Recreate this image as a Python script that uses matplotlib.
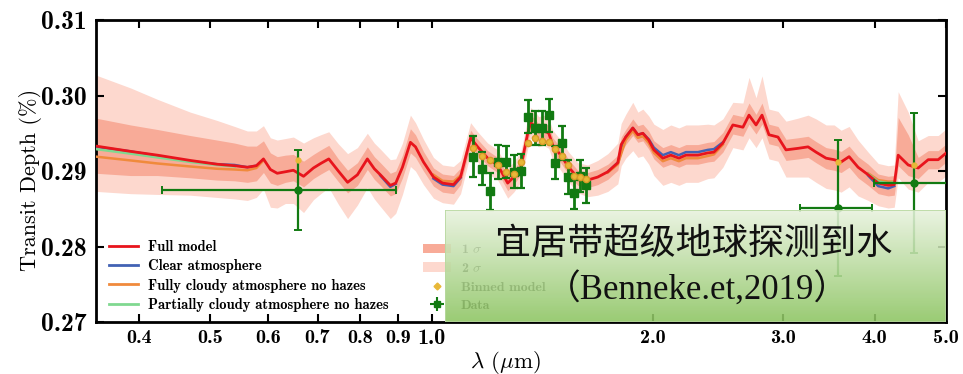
import numpy as np
import matplotlib
matplotlib.use('Agg')
import matplotlib.pyplot as plt
from matplotlib.lines import Line2D
from matplotlib.patches import Patch, Rectangle

plt.rcParams['mathtext.fontset'] = 'cm'

# Full model spectrum (wavelength in um, transit depth in %)
wl = [0.350, 0.390, 0.424, 0.470, 0.511, 0.540, 0.562, 0.578, 0.591, 0.604,
      0.617, 0.633, 0.649, 0.670, 0.691, 0.707, 0.725, 0.747, 0.769, 0.793,
      0.818, 0.836, 0.852, 0.879, 0.894, 0.913, 0.936, 0.951, 0.975, 1.006,
      1.035, 1.071, 1.095, 1.130, 1.155, 1.192, 1.230, 1.269, 1.293, 1.322,
      1.351, 1.364, 1.385, 1.398, 1.420, 1.443, 1.461, 1.498, 1.536, 1.580,
      1.630, 1.682, 1.736, 1.791, 1.810, 1.836, 1.877, 1.907, 1.937, 1.973,
      2.005, 2.062, 2.114, 2.168, 2.216, 2.301, 2.374, 2.419, 2.488, 2.567,
      2.649, 2.700, 2.760, 2.812, 2.874, 2.956, 3.031, 3.147, 3.248, 3.330,
      3.436, 3.524, 3.602, 3.693, 3.798, 3.920, 4.045, 4.173, 4.253, 4.306,
      4.443, 4.584, 4.730, 4.880, 5.020]
full = [0.2933, 0.2926, 0.2921, 0.2914, 0.2909, 0.2907, 0.2905, 0.2907, 0.2916, 0.2902,
        0.2897, 0.2899, 0.2901, 0.2893, 0.2904, 0.2910, 0.2916, 0.2900, 0.2885, 0.2895,
        0.2916, 0.2903, 0.2895, 0.2881, 0.2884, 0.2905, 0.2938, 0.2932, 0.2912, 0.2892,
        0.2884, 0.2882, 0.2892, 0.2944, 0.2932, 0.2917, 0.2908, 0.2884, 0.2892, 0.2905,
        0.2950, 0.2964, 0.2958, 0.2952, 0.2954, 0.2950, 0.2934, 0.2921, 0.2905, 0.2891,
        0.2888, 0.2892, 0.2899, 0.2911, 0.2935, 0.2945, 0.2957, 0.2948, 0.2950, 0.2941,
        0.2928, 0.2917, 0.2921, 0.2917, 0.2921, 0.2921, 0.2924, 0.2925, 0.2937, 0.2961,
        0.2958, 0.2974, 0.2961, 0.2974, 0.2948, 0.2945, 0.2928, 0.2930, 0.2932, 0.2925,
        0.2917, 0.2915, 0.2912, 0.2919, 0.2905, 0.2895, 0.2884, 0.2881, 0.2882, 0.2921,
        0.2908, 0.2904, 0.2915, 0.2915, 0.2925]

# 1 and 2 sigma envelopes around the full model, in units of 1e-4 %
s1_hi = [37, 35, 34, 33, 32, 30, 28, 26, 24, 22, 22, 22, 21, 20, 18, 18, 18, 16, 16, 16,
         16, 16, 16, 16, 16, 16, 18, 16, 14, 12, 12, 12, 12, 10, 10, 10, 10, 10, 10, 10,
         10, 10, 10, 10, 10, 10, 10, 10, 10, 10, 10, 10, 10, 10, 10, 10, 12, 12, 12, 12,
         12, 14, 14, 14, 14, 14, 14, 14, 14, 14, 14, 16, 14, 16, 14, 14, 14, 14, 14, 14,
         14, 14, 14, 14, 14, 14, 12, 12, 12, 50, 40, 14, 12, 12, 12]
s1_lo = [36, 32, 27, 23, 21, 20, 20, 20, 18, 18, 16, 14, 14, 14, 14, 14, 14, 14, 14, 14,
         14, 14, 14, 14, 14, 14, 14, 14, 12, 12, 12, 12, 10, 10, 10, 10, 10, 10, 10, 10,
         10, 10, 10, 10, 10, 10, 10, 10, 10, 10, 10, 10, 10, 10, 10, 10, 10, 10, 10, 12,
         12, 12, 12, 12, 12, 12, 12, 12, 12, 12, 12, 12, 12, 12, 12, 12, 14, 14, 14, 14,
         14, 14, 14, 14, 14, 14, 14, 14, 14, 14, 14, 14, 12, 12, 12]
s2_hi = [94, 84, 74, 64, 58, 52, 48, 46, 44, 42, 44, 44, 44, 44, 40, 38, 36, 36, 38, 36,
         34, 34, 34, 34, 32, 32, 36, 32, 30, 26, 24, 24, 22, 20, 20, 20, 20, 20, 20, 20,
         20, 20, 20, 20, 20, 20, 20, 20, 20, 20, 20, 22, 24, 26, 28, 30, 34, 30, 32, 32,
         34, 38, 40, 40, 40, 40, 38, 36, 32, 30, 32, 50, 36, 52, 34, 34, 38, 40, 42, 44,
         44, 46, 42, 40, 36, 30, 26, 26, 26, 84, 70, 36, 32, 32, 32]
s2_lo = [60, 56, 52, 46, 44, 44, 44, 42, 40, 50, 46, 42, 44, 48, 42, 40, 38, 44, 48, 40,
         38, 40, 42, 44, 40, 36, 32, 32, 30, 28, 26, 26, 22, 20, 20, 20, 20, 20, 20, 20,
         20, 20, 20, 20, 20, 20, 20, 20, 20, 20, 22, 24, 26, 28, 28, 28, 30, 30, 30, 32,
         34, 36, 36, 36, 36, 36, 34, 34, 32, 30, 30, 30, 30, 30, 32, 32, 36, 38, 40, 40,
         40, 40, 40, 40, 38, 34, 30, 30, 30, 30, 32, 32, 30, 30, 30]

# Alternative atmospheres, only where they separate from the full model (nan = gap)
clear_wl = [0.350, 0.390, 0.424, 0.470, 0.511, 0.540, 0.562, 0.578, np.nan,
            0.852, 0.879, 0.894, np.nan, 1.006, 1.035, 1.071, 1.095, np.nan,
            1.736, 1.791, 1.836, 1.877, 1.907, 1.937, 1.973, 2.005, 2.062, 2.114,
            2.168, 2.216, 2.301, 2.374, 2.419, 2.488, np.nan, 3.920, 4.045, 4.173, 4.253]
clear = [0.2932, 0.2926, 0.2920, 0.2913, 0.2909, 0.2908, 0.2905, 0.2907, np.nan,
         0.2894, 0.2879, 0.2883, np.nan, 0.2890, 0.2882, 0.2880, 0.2891, np.nan,
         0.2899, 0.2911, 0.2945, 0.2957, 0.2948, 0.2950, 0.2942, 0.2931, 0.2921, 0.2925,
         0.2921, 0.2925, 0.2925, 0.2928, 0.2929, 0.2938, np.nan, 0.2894, 0.2880, 0.2877, 0.2880]
cloudy_wl = [0.350, 0.390, 0.424, 0.470, 0.511, 0.540, 0.562, 0.578, 0.591, np.nan,
             1.006, 1.035, 1.071, 1.095, np.nan,
             1.736, 1.791, 1.836, 1.877, 1.907, 1.937, 1.973, 2.005, 2.062, 2.114,
             2.168, 2.216, 2.301, 2.374, 2.419, 2.488, np.nan, 3.920, 4.045, 4.173, 4.253]
cloudy = [0.2919, 0.2914, 0.2910, 0.2906, 0.2903, 0.2902, 0.2901, 0.2904, 0.2914, np.nan,
          0.2895, 0.2887, 0.2886, 0.2894, np.nan,
          0.2898, 0.2909, 0.2941, 0.2953, 0.2944, 0.2946, 0.2937, 0.2924, 0.2913, 0.2917,
          0.2913, 0.2917, 0.2917, 0.2920, 0.2922, 0.2935, np.nan, 0.2897, 0.2888, 0.2886, 0.2886]
partial_wl = [0.350, 0.390, 0.424, 0.470, 0.511, 0.540, np.nan, 3.920, 4.045, 4.173, 4.253]
partial = [0.2929, 0.2923, 0.2918, 0.2912, 0.2908, 0.2906, np.nan, 0.2896, 0.2886, 0.2884, 0.2885]

# HST/WFC3 spectrum
hst_wl = [1.137, 1.170, 1.199, 1.230, 1.261, 1.293, 1.322, 1.351, 1.381,
          1.411, 1.442, 1.470, 1.502, 1.531, 1.560, 1.590, 1.620]
hst_td = [0.2919, 0.2903, 0.2873, 0.2912, 0.2912, 0.2899, 0.2900, 0.2972, 0.2957,
          0.2957, 0.2974, 0.2911, 0.2937, 0.2892, 0.2871, 0.2893, 0.2881]
hst_err = [0.0027, 0.0022, 0.0024, 0.0022, 0.0021, 0.0022, 0.0022, 0.0022, 0.0022,
           0.0022, 0.0022, 0.0022, 0.0022, 0.0022, 0.0021, 0.0021, 0.0023]
hst_bin = [0.2930, 0.2920, 0.2915, 0.2908, 0.2899, 0.2896, 0.2912, 0.2937, 0.2944,
           0.2940, 0.2938, 0.2929, 0.2920, 0.2908, 0.2893, 0.2892, 0.2889]

# K2 and Spitzer broadband points
bb_wl = [0.659, 3.568, 4.527]
bb_td = [0.2875, 0.2851, 0.2884]
bb_err = [0.0053, 0.0090, 0.0093]
bb_xlo = [0.4305, 3.168, 3.995]
bb_xhi = [0.894, 3.968, 5.200]
bb_bin = [0.2915, 0.2912, 0.2908]

xticks = [0.4, 0.5, 0.6, 0.7, 0.8, 0.9, 1.0, 2.0, 3.0, 4.0, 5.0]
yticks = [0.27, 0.28, 0.29, 0.30, 0.31]

red = '#e8141c'
blue = '#4262b4'
orange = '#f08a3c'
lgreen = '#80d890'
band1 = '#f8ab98'
band2 = '#fdd8ce'
dgreen = '#127a12'
gold = '#e8b838'

wl_a = np.array(wl)
full_a = np.array(full)
fig = plt.figure(figsize=(9.63, 3.74), dpi=100)
ax = fig.add_axes([0.0997, 0.139, 0.8826, 0.8075])

ax.fill_between(wl_a, full_a - np.array(s2_lo) * 1e-4, full_a + np.array(s2_hi) * 1e-4,
                color=band2, lw=0, zorder=1)
ax.fill_between(wl_a, full_a - np.array(s1_lo) * 1e-4, full_a + np.array(s1_hi) * 1e-4,
                color=band1, lw=0, zorder=2)
ax.plot(clear_wl, clear, color=blue, lw=1.8, zorder=3)
ax.plot(cloudy_wl, cloudy, color=orange, lw=1.8, zorder=3)
ax.plot(partial_wl, partial, color=lgreen, lw=1.8, zorder=3)
ax.plot(wl_a, full_a, color=red, lw=2.0, zorder=4)

# broadband points
bb_wl_a = np.array(bb_wl)
xerr = [bb_wl_a - np.array(bb_xlo), np.array(bb_xhi) - bb_wl_a]
ax.errorbar(bb_wl, bb_td, yerr=bb_err, xerr=xerr, fmt='o', color=dgreen, ms=5,
            elinewidth=1.6, capsize=3, capthick=1.4, zorder=6)
ax.plot(bb_wl, bb_bin, 'o', color=gold, ms=3.5, zorder=7)

ax.errorbar(hst_wl, hst_td, yerr=hst_err, fmt='s', color=dgreen, ms=5.5,
            elinewidth=2.0, capsize=3, capthick=1.6, zorder=6)
ax.plot(hst_wl, hst_bin, 'o', color=gold, mec='#d89a28', ms=4.5, zorder=7)

ax.set_xscale('log')
ax.set_xlim(0.35, 5.0)
ax.set_ylim(0.27, 0.31)
ax.set_xticks(xticks)
ax.set_xticklabels(['%.1f' % t for t in xticks])
ax.xaxis.set_minor_locator(matplotlib.ticker.NullLocator())
ax.set_yticks(yticks)
ax.set_yticklabels(['%.2f' % t for t in yticks])
for lab in ax.get_xticklabels():
    lab.set_fontfamily('cmb10')
    lab.set_fontsize(14.5)
ax.get_xticklabels()[6].set_fontsize(16)
for lab in ax.get_yticklabels():
    lab.set_fontfamily('cmb10')
    lab.set_fontsize(18.5)
ax.tick_params(direction='in', length=6, width=1.5, top=True, right=True, pad=5)
ax.tick_params(axis='y', pad=7)
for sp in ax.spines.values():
    sp.set_linewidth(2.0)

ax.set_ylabel('Transit Depth (%)', family='cmr10', fontsize=16)
ax.yaxis.set_label_coords(-0.064, 0.47)
ax.set_xlabel(r'$\mathbf{\lambda}$ ($\mu$m)', family='cmr10', fontsize=16.5)
ax.xaxis.set_label_coords(0.482, -0.088)

# legends
h1 = [Line2D([], [], color=red, lw=2),
      Line2D([], [], color=blue, lw=2),
      Line2D([], [], color=orange, lw=2),
      Line2D([], [], color=lgreen, lw=2)]
l1 = ['Full model', 'Clear atmosphere', 'Fully cloudy atmosphere no hazes',
      'Partially cloudy atmosphere no hazes']
leg_prop = {'family': 'cmb10', 'size': 10.5}
leg1 = ax.legend(h1, l1, loc='lower left', bbox_to_anchor=(0.005, 0.005),
                 frameon=False, prop=leg_prop,
                 handlelength=2.0, handletextpad=0.7, labelspacing=0.36,
                 borderaxespad=0.2)
ax.add_artist(leg1)
eb = ax.errorbar([], [], yerr=[], xerr=[], fmt='s', color=dgreen, ms=5, capsize=2)
h2 = [Patch(color=band1, lw=0), Patch(color=band2, lw=0),
      Line2D([], [], marker='D', color=gold, ls='', ms=3.5), eb]
l2 = [r'1 $\sigma$', r'2 $\sigma$', 'Binned model', 'Data']
ax.legend(h2, l2, loc='lower left', bbox_to_anchor=(0.375, 0.005),
          frameon=False, prop={'family': 'cmb10', 'size': 10},
          handlelength=2.0, handletextpad=0.7, labelspacing=0.42,
          borderaxespad=0.2)

# gradient caption box over the lower right of the plot
bx = fig.add_axes([0.462, 0.139, 0.520, 0.299], zorder=10)
top_c = np.array([0.91, 0.95, 0.87])
bot_c = np.array([0.55, 0.77, 0.38])
t = np.linspace(0, 1, 200)[:, None]
grad = top_c[None, :] * (1 - t) + bot_c[None, :] * t
grad = np.repeat(grad[:, None, :], 2, axis=1)
bx.imshow(grad, aspect='auto', extent=[0, 1, 0, 1], alpha=0.88)
bx.add_patch(Rectangle((0, 0), 1, 1, fill=False, ec='#b8d8a0', lw=1.2,
                       transform=bx.transAxes))
bx.set_xlim(0, 1)
bx.set_ylim(0, 1)
bx.axis('off')
bx.text(0.497, 0.70, '宜居带超级地球探测到水', ha='center', va='center',
        family=['Noto Sans CJK SC'], fontsize=26, color='#111111')
bx.text(0.505, 0.29, '（Benneke.et,2019）', ha='center', va='center',
        family=['Liberation Serif', 'Noto Sans CJK SC'], fontsize=25, color='#111111')

fig.savefig('out.png', dpi=100)
